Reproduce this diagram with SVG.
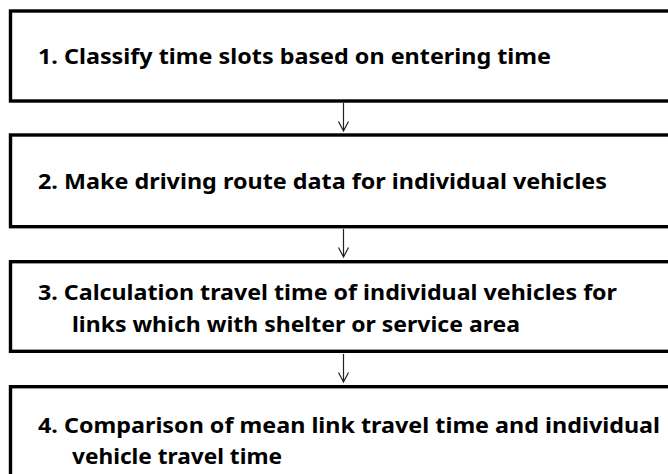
<svg xmlns="http://www.w3.org/2000/svg" width="668" height="474" viewBox="0 0 668 474">
<style>
.box{fill:#fff;stroke:#000;stroke-width:3.4}
.t{font-family:"Noto Sans","Liberation Sans",sans-serif;font-weight:bold;font-size:21px;fill:#000}
.c{stroke:#222;stroke-width:1.2;fill:none}
</style>
<rect width="668" height="474" fill="#fff"/>
<g id="node1"><rect class="box" x="10.5" y="11" width="700" height="90"/>
<text class="t" x="38" y="63.5" textLength="513" lengthAdjust="spacingAndGlyphs">1. Classify time slots based on entering time</text></g>
<g id="node2"><rect class="box" x="10.5" y="135" width="700" height="91.7"/>
<text class="t" x="38" y="188.5" textLength="569" lengthAdjust="spacingAndGlyphs">2. Make driving route data for individual vehicles</text></g>
<g id="node3"><rect class="box" x="10.5" y="261.7" width="700" height="89.6"/>
<text class="t" x="38" y="299.5" textLength="579" lengthAdjust="spacingAndGlyphs">3. Calculation travel time of individual vehicles for</text>
<text class="t" x="72" y="331.5" textLength="448" lengthAdjust="spacingAndGlyphs">links which with shelter or service area</text></g>
<g id="node4"><rect class="box" x="10.5" y="386.7" width="700" height="120"/>
<text class="t" x="38" y="432.5" textLength="622" lengthAdjust="spacingAndGlyphs">4. Comparison of mean link travel time and individual</text>
<text class="t" x="72" y="463.5" textLength="210" lengthAdjust="spacingAndGlyphs">vehicle travel time</text></g>
<g id="connectors">
<path class="c" d="M343.5 103V131M338.5 121.5L343.5 131L348.5 121.5"/>
<path class="c" d="M343.5 229V257M338.5 247.5L343.5 257L348.5 247.5"/>
<path class="c" d="M343.5 354V382M338.5 372.5L343.5 382L348.5 372.5"/>
</g>
</svg>
